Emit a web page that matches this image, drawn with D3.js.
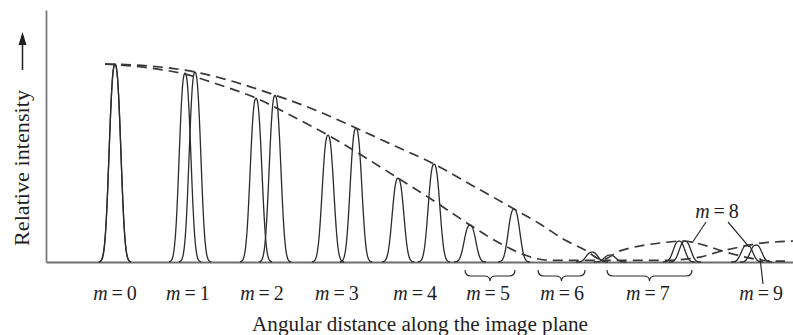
<!DOCTYPE html>
<html><head><meta charset="utf-8">
<script src="https://cdn.jsdelivr.net/npm/d3@7"></script>
<style>
html,body{margin:0;padding:0;background:#fff;}
svg{display:block;}
text{font-family:"Liberation Serif","Times New Roman",serif;fill:#1e1e1e;}
</style></head><body>
<svg id="chart" width="793" height="335"></svg>
<script>
// ---------------- data (angular units: long-wavelength order spacing = 1; intensity relative to m=0) ----
const shortWavePos = [0, 0.881, 1.774, 2.679, 3.560, 4.465, 5.321, 6.226, 7.170, 7.950];
const shortWaveInt = [1.0, 0.955, 0.828, 0.641, 0.424, 0.187, 0.0, 0.035, 0.106, 0.086];
const longWavePos  = [0, 1.006, 2.013, 3.031, 4.013, 5.019, 6.000, 7.095, 8.063];
const longWaveInt  = [1.0, 0.960, 0.843, 0.677, 0.495, 0.268, 0.050, 0.106, 0.086];

// envelope curves: [angle, relative intensity]
const envelopeLong = [[-0.126,1.0],[0.440,0.990],[1.006,0.960],[1.509,0.909],[2.013,0.843],[2.516,0.768],
  [3.031,0.677],[3.522,0.586],[4.013,0.495],[4.528,0.379],[5.019,0.268],[5.346,0.192],[5.660,0.111],
  [5.912,0.061],[6.126,0.012],[6.352,0.056],[6.604,0.081],[6.855,0.096],[7.145,0.106],[7.358,0.091],
  [7.635,0.056],[7.925,0.025],[8.214,0.006],[8.428,0.004]];
const envelopeShort = [[-0.126,1.0],[0.440,0.980],[0.881,0.949],[1.321,0.894],[1.774,0.828],[2.226,0.737],
  [2.679,0.641],[3.119,0.535],[3.560,0.424],[4.013,0.308],[4.465,0.187],[4.881,0.086],[5.157,0.035],
  [5.409,0.010],[5.597,0.008],[6.226,0.008],[6.855,0.008],[7.107,0.012],[7.358,0.025],[7.635,0.056],
  [7.862,0.076],[8.050,0.091],[8.302,0.101],[8.528,0.106]];

const orderLabels = ["0","1","2","3","4","5","6","7","9"];
const orderLabelPos = [0, 0.918, 1.849, 2.792, 3.774, 4.692, 5.623, 6.704, 8.126];
const braceLabels = ["5","6","7"];
const braceStart = [4.403, 5.321, 6.189];
const braceEnd   = [5.031, 5.912, 7.258];
const m8LabelPos = 7.572;
const m8Targets = [[7.258, 0.096],[7.975, 0.076]];
const m9Target = [8.113, 0.02];

const xLabel = "Angular distance along the image plane";
const yLabel = "Relative intensity";

// ---------------- layout ----------------
const svg = d3.select("#chart");
const x = d3.scaleLinear().domain([-0.868, 8.528]).range([46, 793]);
const y = d3.scaleLinear().domain([0, 1.273]).range([262, 10]);
const peakW = 0.092;   // shape parameter of one diffraction peak

// axes
const gx = svg.append("g").attr("transform", `translate(0,${y(0)})`)
  .call(d3.axisBottom(x).ticks(0).tickSizeOuter(0));
gx.select(".domain").attr("stroke", "#6e6e6e").attr("stroke-width", 2);
const gy = svg.append("g").attr("transform", `translate(${x.range()[0]},0)`)
  .call(d3.axisLeft(y).ticks(0).tickSizeOuter(0));
gy.select(".domain").attr("stroke", "#7a7a7a").attr("stroke-width", 1.8);

// peaks
const peakLine = d3.line().x(d => x(d[0])).y(d => y(d[1])).curve(d3.curveBasis);
function peakPoints(c, h) {
  const pts = [];
  for (let t = -2.2; t <= 2.2001; t += 0.1) {
    pts.push([c + t * peakW, h * Math.exp(-Math.pow(Math.abs(t), 2.5))]);
  }
  return pts;
}
const peaks = [];
shortWavePos.forEach((p, i) => { if (shortWaveInt[i] > 0) peaks.push([p, shortWaveInt[i]]); });
longWavePos.forEach((p, i) => { if (longWaveInt[i] > 0) peaks.push([p, longWaveInt[i]]); });
svg.append("g").selectAll("path").data(peaks).join("path")
  .attr("d", d => peakLine(peakPoints(d[0], d[1])))
  .attr("fill", "none").attr("stroke", "#2b2b2b").attr("stroke-width", 1.3);

// envelopes
const envLine = d3.line().x(d => x(d[0])).y(d => y(d[1])).curve(d3.curveMonotoneX);
svg.append("g").selectAll("path").data([envelopeLong, envelopeShort]).join("path")
  .attr("d", envLine)
  .attr("fill", "none").attr("stroke", "#383838").attr("stroke-width", 1.7)
  .attr("stroke-dasharray", "10,6");

// order labels
function orderText(sel, num) {
  sel.append("tspan").attr("font-style", "italic").text("m");
  sel.append("tspan").attr("dx", 4).text("=");
  sel.append("tspan").attr("dx", 4).text(num);
}
orderLabels.forEach((n, i) => {
  const t = svg.append("text").attr("x", x(orderLabelPos[i])).attr("y", 300)
    .attr("text-anchor", "middle").attr("font-size", 20);
  orderText(t, n);
});
const t8 = svg.append("text").attr("x", x(m8LabelPos)).attr("y", 218)
  .attr("text-anchor", "middle").attr("font-size", 20);
orderText(t8, "8");

// braces
function bracePath(x0, x1) {
  const m = (x0 + x1) / 2, r = 6, yt = 270, ym = 276, yc = 281;
  return `M${x0},${yt} Q${x0},${ym} ${x0 + r},${ym} L${m - r},${ym} Q${m},${ym} ${m},${yc} ` +
         `Q${m},${ym} ${m + r},${ym} L${x1 - r},${ym} Q${x1},${ym} ${x1},${yt}`;
}
svg.append("g").selectAll("path").data(braceLabels).join("path")
  .attr("d", (d, i) => bracePath(x(braceStart[i]), x(braceEnd[i])))
  .attr("fill", "none").attr("stroke", "#2b2b2b").attr("stroke-width", 1.2);

// leader lines
const lx = x(m8LabelPos);
svg.append("line").attr("x1", lx - 11).attr("y1", 222).attr("x2", x(m8Targets[0][0])).attr("y2", y(m8Targets[0][1]))
  .attr("stroke", "#2b2b2b").attr("stroke-width", 1.2);
svg.append("line").attr("x1", lx + 11).attr("y1", 222).attr("x2", x(m8Targets[1][0])).attr("y2", y(m8Targets[1][1]))
  .attr("stroke", "#2b2b2b").attr("stroke-width", 1.2);
svg.append("line").attr("x1", x(m9Target[0])).attr("y1", y(m9Target[1])).attr("x2", x(m9Target[0]) + 3).attr("y2", 284)
  .attr("stroke", "#2b2b2b").attr("stroke-width", 1.2);

// axis titles
svg.append("text").attr("x", 420).attr("y", 331).attr("text-anchor", "middle")
  .attr("font-size", 20).attr("textLength", 336).attr("lengthAdjust", "spacingAndGlyphs").text(xLabel);
svg.append("text").attr("transform", "translate(29,168) rotate(-90)").attr("text-anchor", "middle")
  .attr("font-size", 20).attr("textLength", 156).attr("lengthAdjust", "spacingAndGlyphs").text(yLabel);

// arrow
svg.append("line").attr("x1", 22.5).attr("y1", 70).attr("x2", 22.5).attr("y2", 42)
  .attr("stroke", "#1e1e1e").attr("stroke-width", 1.5);
svg.append("path").attr("d", "M22.5,32 L18.5,45 L26.5,45 Z").attr("fill", "#1e1e1e");
</script>
</body></html>
